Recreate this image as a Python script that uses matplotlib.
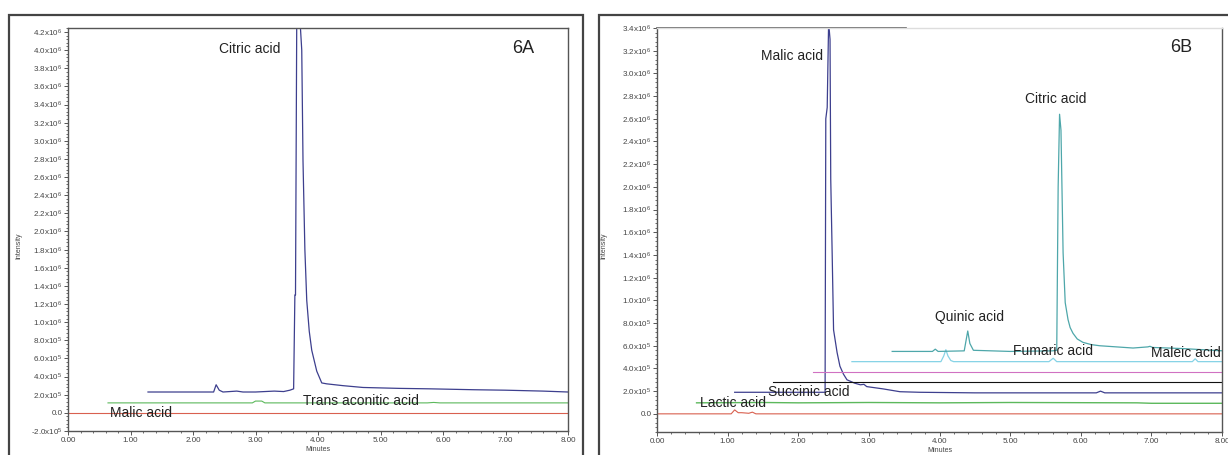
import numpy as np
import matplotlib
matplotlib.use("Agg")
import matplotlib.pyplot as plt
from matplotlib.ticker import FuncFormatter, MultipleLocator, AutoMinorLocator
from matplotlib.patches import Rectangle

plt.rcParams['font.family'] = ['Liberation Sans', 'DejaVu Sans']
plt.rcParams['mathtext.default'] = 'regular'

# ---- panel 6A traces (minutes, intensity) ----
red_a_x = [0.0, 8.0]
red_a_y = [0.0, 0.0]

green_a_x = [0.64, 2.95, 3.00, 3.10, 3.15, 5.75, 5.85, 5.95, 8.00]
green_a_y = [1.1e5, 1.1e5, 1.3e5, 1.3e5, 1.1e5, 1.1e5, 1.15e5, 1.1e5, 1.1e5]

navy_a_x = [1.28, 2.33, 2.37, 2.42, 2.48, 2.70, 2.80, 3.00, 3.30, 3.45, 3.55,
            3.61, 3.63, 3.64, 3.66, 3.71, 3.74, 3.76, 3.79, 3.82, 3.86, 3.90, 3.98, 4.06,
            4.14, 4.40, 4.72, 5.30, 5.79, 6.50, 7.00, 7.60, 8.00]
navy_a_y = [2.3e5, 2.3e5, 3.1e5, 2.5e5, 2.3e5, 2.4e5, 2.3e5, 2.3e5, 2.4e5, 2.35e5, 2.5e5,
            2.65e5, 1.3e6, 1.3e6, 4.35e6, 4.35e6, 4.0e6, 2.78e6, 1.8e6, 1.24e6, 0.9e6, 0.69e6, 0.46e6, 0.33e6,
            0.32e6, 0.30e6, 0.28e6, 0.27e6, 0.265e6, 0.255e6, 0.25e6, 0.24e6, 0.23e6]

# ---- panel 6B traces ----
red_b_x = [0.0, 1.05, 1.10, 1.15, 1.20, 1.30, 1.35, 1.40, 8.0]
red_b_y = [0.0, 0.0, 3.5e4, 1.0e4, 1.0e4, 0.5e4, 1.5e4, 0.0, 0.0]

green_b_x = [0.56, 1.5, 2.0, 3.0, 4.0, 5.0, 6.8, 7.0, 8.0]
green_b_y = [0.97e5, 1.0e5, 0.97e5, 1.0e5, 0.97e5, 1.0e5, 0.97e5, 0.93e5, 0.93e5]

navy_b_x = [1.10, 2.38, 2.39, 2.41, 2.43, 2.45, 2.46, 2.48, 2.50, 2.55, 2.59, 2.64, 2.69,
            2.80, 2.88, 2.93, 2.97, 3.20, 3.44, 3.72, 4.50, 6.22, 6.28, 6.34, 8.00]
navy_b_y = [1.9e5, 1.9e5, 2.6e6, 2.7e6, 3.45e6, 3.3e6, 2.07e6, 1.42e6, 0.74e6, 0.54e6, 0.42e6, 0.35e6, 0.30e6,
            0.27e6, 0.256e6, 0.26e6, 0.24e6, 0.22e6, 0.195e6, 0.19e6, 0.185e6, 0.185e6, 0.2e6, 0.185e6, 0.185e6]

black_b_x = [1.64, 8.0]
black_b_y = [2.83e5, 2.83e5]

magenta_b_x = [2.21, 8.0]
magenta_b_y = [3.7e5, 3.7e5]

sky_b_x = [2.76, 4.02, 4.06, 4.09, 4.12, 4.16, 4.20, 5.55, 5.61, 5.66, 7.58, 7.62, 7.66, 8.00]
sky_b_y = [4.6e5, 4.6e5, 5.1e5, 5.65e5, 5.1e5, 4.7e5, 4.6e5, 4.6e5, 4.9e5, 4.6e5, 4.6e5, 4.85e5, 4.6e5, 4.6e5]

teal_b_x = [3.33, 3.90, 3.94, 3.98, 4.35, 4.38, 4.40, 4.43, 4.48, 5.00, 5.60, 5.66,
            5.68, 5.70, 5.72, 5.75, 5.78, 5.82, 5.85, 5.89, 5.95, 6.03, 6.15, 6.27, 6.74, 6.95, 6.98,
            7.02, 7.45, 7.98, 8.00]
teal_b_y = [5.5e5, 5.5e5, 5.7e5, 5.5e5, 5.55e5, 6.6e5, 7.3e5, 6.2e5, 5.6e5, 5.5e5, 5.55e5, 5.6e5,
            2.0e6, 2.64e6, 2.5e6, 1.42e6, 0.98e6, 0.83e6, 0.76e6, 0.71e6, 0.66e6, 0.63e6, 0.61e6, 0.60e6, 0.58e6, 0.59e6, 0.595e6,
            0.585e6, 0.575e6, 0.556e6, 0.556e6]

top_rule_x = [0.0, 3.53]
top_rule_y = [3.4e6, 3.4e6]

labels_a = [("Citric acid", 2.91, 4.01e6, 'center'),
            ("Malic acid", 0.67, 0.0, 'left'),
            ("Trans aconitic acid", 3.76, 1.3e5, 'left')]
labels_b = [("Malic acid", 2.35, 3.15e6, 'right'),
            ("Citric acid", 5.65, 2.77e6, 'center'),
            ("Quinic acid", 4.42, 0.85e6, 'center'),
            ("Fumaric acid", 5.04, 0.557e6, 'left'),
            ("Maleic acid", 7.00, 0.54e6, 'left'),
            ("Lactic acid", 0.61, 0.97e5, 'left'),
            ("Succinic acid", 1.57, 1.94e5, 'left')]

NAVY = '#3d3f8e'
GREEN = '#5cb85c'
RED = '#d9604f'
MAGENTA = '#d071c2'
SKY = '#86d3e6'
TEAL = '#4ea7aa'
SPINE = '#555555'


def sci_fmt(v, pos):
    if abs(v) < 1:
        return "0.0"
    e = int(np.floor(np.log10(abs(v)) + 1e-9))
    m = v / 10 ** e
    return "%.1fx10$^{%d}$" % (m, e)


def style_axes(ax, ymin, ymax):
    ax.set_xlim(0, 8)
    ax.set_ylim(ymin, ymax)
    ax.xaxis.set_major_locator(MultipleLocator(1))
    ax.xaxis.set_minor_locator(AutoMinorLocator(5))
    ax.yaxis.set_major_locator(MultipleLocator(2e5))
    ax.yaxis.set_minor_locator(AutoMinorLocator(5))
    ax.xaxis.set_major_formatter(FuncFormatter(lambda v, p: "%.2f" % v))
    ax.yaxis.set_major_formatter(FuncFormatter(sci_fmt))
    ax.tick_params(which='major', length=3, width=0.7, colors=SPINE,
                   labelsize=5.8, labelcolor='#444444', pad=1)
    ax.tick_params(which='minor', length=1.5, width=0.6, colors=SPINE)
    for s in ax.spines.values():
        s.set_color(SPINE)
        s.set_linewidth(1.0)
    ax.set_xlabel("Minutes", fontsize=5, color='#444444')
    ax.set_ylabel("Intensity", fontsize=5, color='#444444')


fig = plt.figure(figsize=(12.28, 4.55), dpi=100)
W, H = 1228.0, 455.0

# outer frames of the two panels
for x0, x1 in [(9, 583), (599, 1240)]:
    fig.patches.append(Rectangle((x0 / W, -0.1), (x1 - x0) / W, 1.1 - 15 / H,
                                 transform=fig.transFigure, fill=False,
                                 edgecolor='#444444', linewidth=1.6, clip_on=False))

# ---- 6A ----
axA = fig.add_axes([68 / W, (H - 431) / H, 500 / W, 403 / H])
style_axes(axA, -2.0e5, 4.244e6)
axA.yaxis.set_label_coords(-0.092, 0.46)
axA.xaxis.set_label_coords(0.5, -0.038)
axA.plot(red_a_x, red_a_y, color=RED, lw=0.8)
axA.plot(green_a_x, green_a_y, color=GREEN, lw=0.8)
axA.plot(navy_a_x, navy_a_y, color=NAVY, lw=0.9)
for txt, x, y, ha in labels_a:
    axA.text(x, y, txt, ha=ha, va='center', fontsize=10, color='#222222')
axA.text(7.28, 4.02e6, "6A", ha='center', va='center', fontsize=13, color='#222222')

# ---- 6B ----
axB = fig.add_axes([657 / W, (H - 432) / H, 565 / W, 404 / H])
style_axes(axB, -1.6e5, 3.4e6)
axB.spines['top'].set_color('#dddddd')
axB.yaxis.set_label_coords(-0.088, 0.46)
axB.xaxis.set_label_coords(0.5, -0.036)
axB.plot(top_rule_x, top_rule_y, color=SPINE, lw=1.2, clip_on=False)
axB.plot(red_b_x, red_b_y, color=RED, lw=0.8)
axB.plot(green_b_x, green_b_y, color=GREEN, lw=1.0)
axB.plot(navy_b_x, navy_b_y, color=NAVY, lw=0.9)
axB.plot(black_b_x, black_b_y, color='#111111', lw=0.8)
axB.plot(magenta_b_x, magenta_b_y, color=MAGENTA, lw=0.8)
axB.plot(sky_b_x, sky_b_y, color=SKY, lw=0.9)
axB.plot(teal_b_x, teal_b_y, color=TEAL, lw=0.9)
for txt, x, y, ha in labels_b:
    axB.text(x, y, txt, ha=ha, va='center', fontsize=10, color='#222222')
axB.text(7.42, 3.23e6, "6B", ha='center', va='center', fontsize=13, color='#222222')

fig.savefig("out.png", dpi=100)
